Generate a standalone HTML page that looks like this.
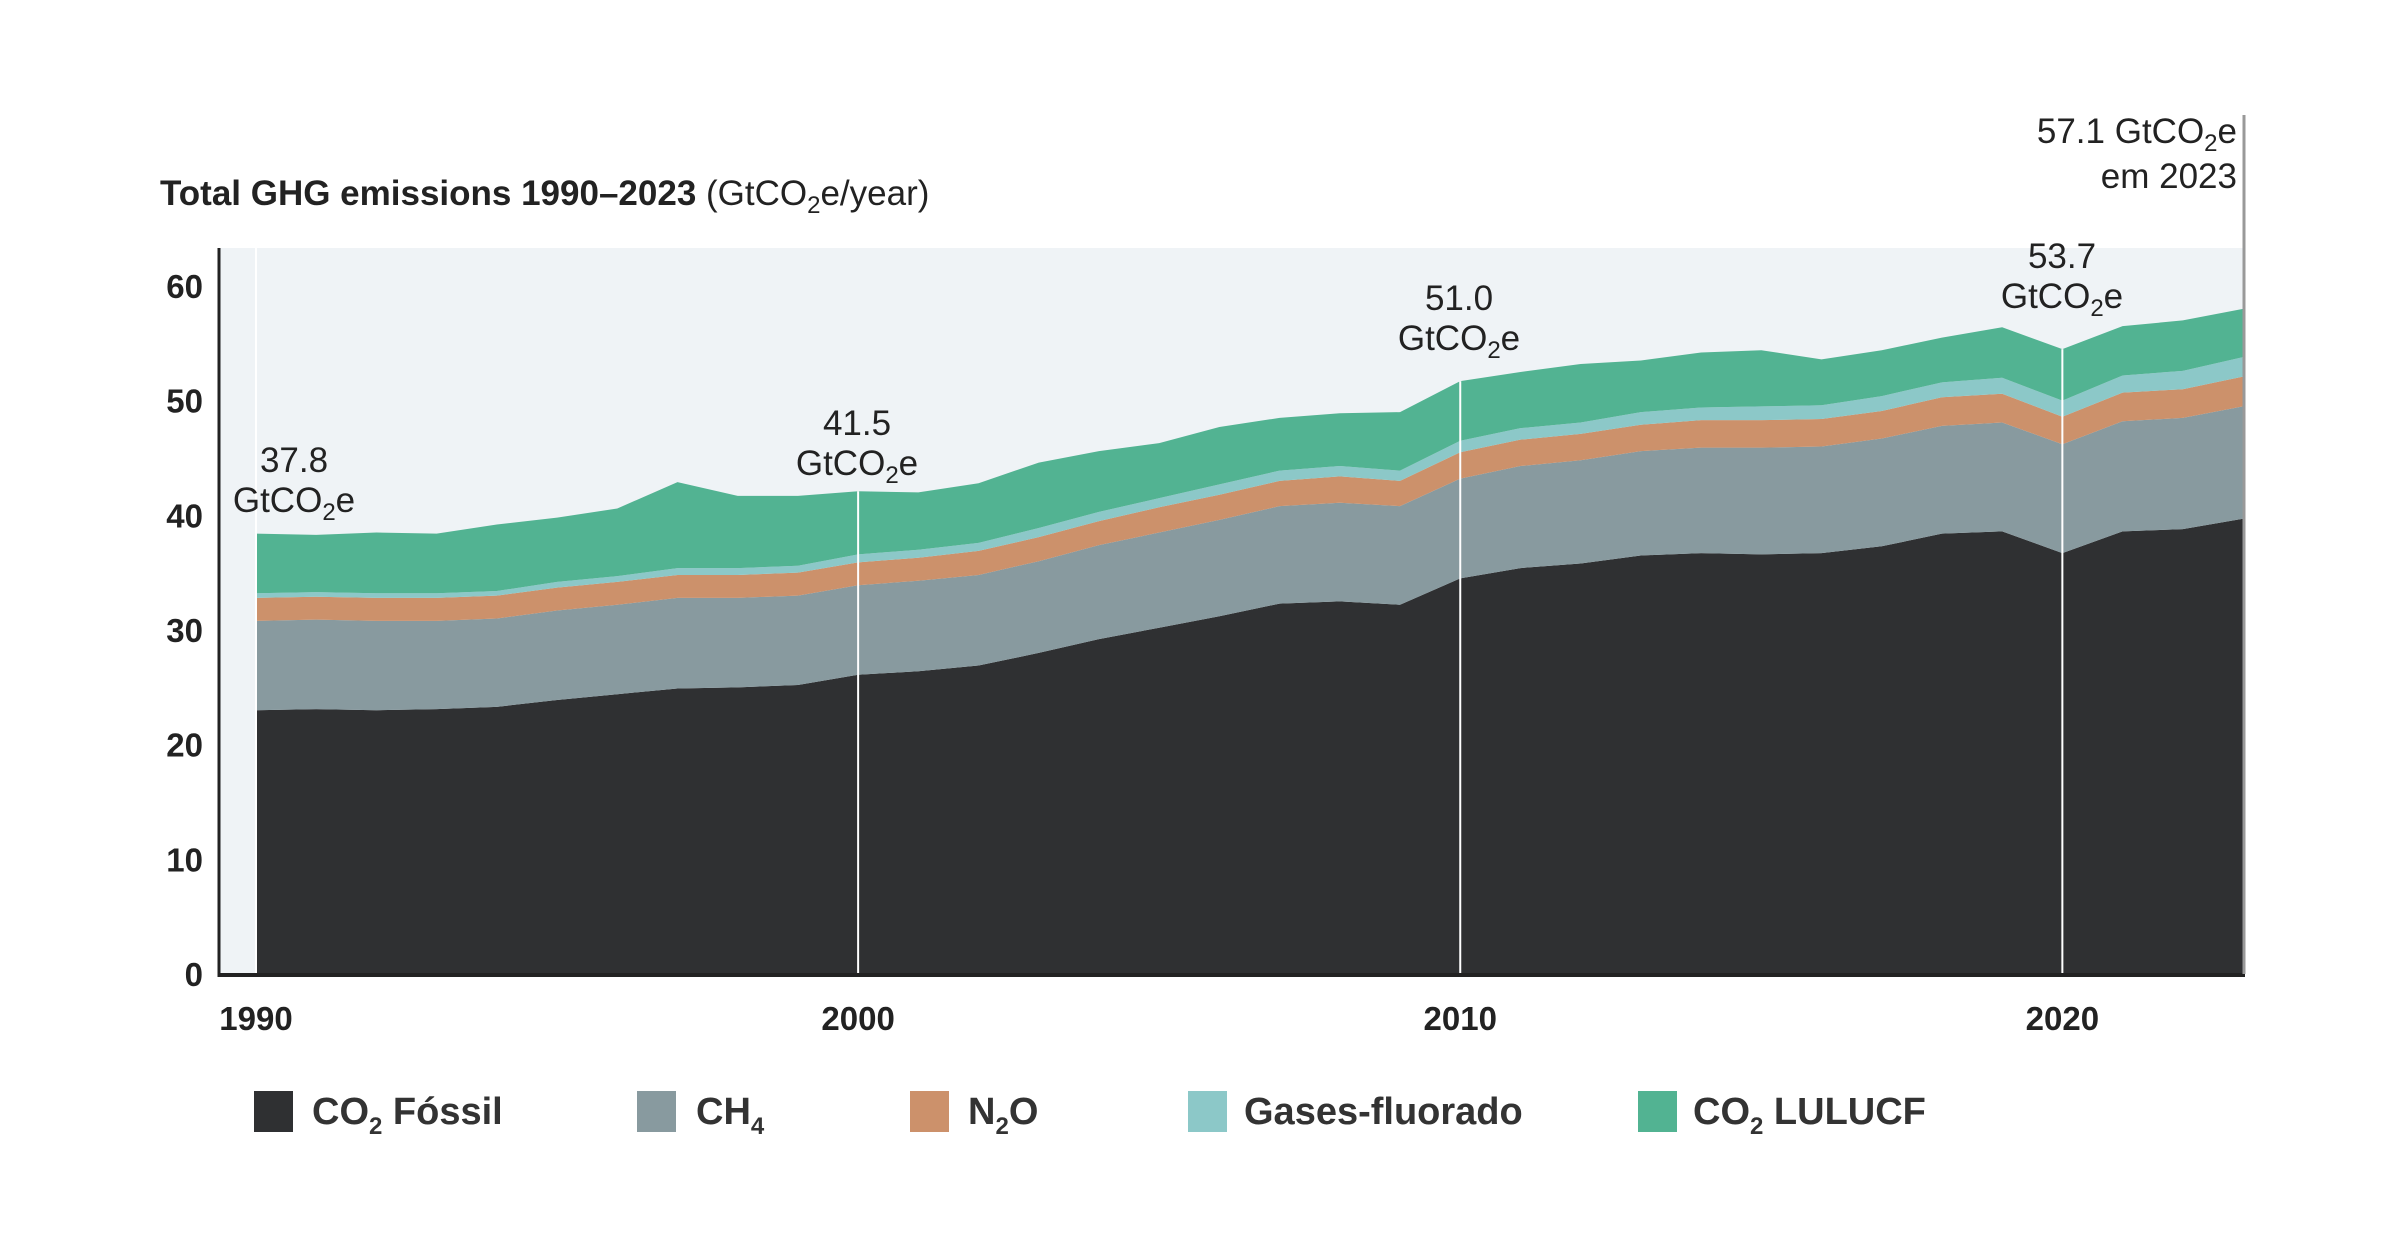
<!DOCTYPE html>
<html><head><meta charset="utf-8"><style>
body{margin:0;background:#fff;}
svg{display:block;font-family:"Liberation Sans",sans-serif;}
</style></head><body>
<svg id="chart" width="2386" height="1258" viewBox="0 0 2386 1258" xmlns="http://www.w3.org/2000/svg">
<rect x="219" y="248" width="2026" height="726" fill="#eff3f6"/>
<text x="160" y="205" font-size="35" fill="#222"><tspan font-weight="bold">Total GHG emissions 1990–2023</tspan> (GtCO<tspan font-size="24" dy="8">2</tspan><tspan dy="-8">e/year)</tspan></text>
<g id="areas"></g>
<g id="vlines"></g>
<line x1="219" y1="975" x2="2245" y2="975" stroke="#222" stroke-width="4"/>
<line x1="219" y1="248" x2="219" y2="977" stroke="#222" stroke-width="3"/>
<line x1="2244" y1="115" x2="2244" y2="974" stroke="#999" stroke-width="3"/>
<g id="yticks"></g>
<g id="xticks"></g>
<g font-size="35" fill="#222" text-anchor="middle">
<text x="294" y="472">37.8</text>
<text x="294" y="512">GtCO<tspan font-size="24" dy="8">2</tspan><tspan dy="-8">e</tspan></text>
<text x="857" y="435">41.5</text>
<text x="857" y="475">GtCO<tspan font-size="24" dy="8">2</tspan><tspan dy="-8">e</tspan></text>
<text x="1459" y="310">51.0</text>
<text x="1459" y="350">GtCO<tspan font-size="24" dy="8">2</tspan><tspan dy="-8">e</tspan></text>
<text x="2062" y="268">53.7</text>
<text x="2062" y="308">GtCO<tspan font-size="24" dy="8">2</tspan><tspan dy="-8">e</tspan></text>
<text x="2237" y="143" text-anchor="end">57.1 GtCO<tspan font-size="24" dy="8">2</tspan><tspan dy="-8">e</tspan></text>
<text x="2237" y="188" text-anchor="end">em 2023</text>
</g>
<g font-size="38" font-weight="bold" fill="#333">
<g><rect x="254" y="1091" width="39" height="41" fill="#2f3032"/><text x="312" y="1124">CO<tspan font-size="24" dy="10">2</tspan><tspan dy="-10"> Fóssil</tspan></text></g>
<g><rect x="637" y="1091" width="39" height="41" fill="#889a9f"/><text x="696" y="1124">CH<tspan font-size="24" dy="10">4</tspan></text></g>
<g><rect x="910" y="1091" width="39" height="41" fill="#cc916b"/><text x="968" y="1124">N<tspan font-size="24" dy="10">2</tspan><tspan dy="-10">O</tspan></text></g>
<g><rect x="1188" y="1091" width="39" height="41" fill="#8cc8c8"/><text x="1244" y="1124">Gases-fluorado</text></g>
<g><rect x="1638" y="1091" width="39" height="41" fill="#52b392"/><text x="1693" y="1124">CO<tspan font-size="24" dy="10">2</tspan><tspan dy="-10"> LULUCF</tspan></text></g>
</g>
</svg>
<script>
const years=[1990,1991,1992,1993,1994,1995,1996,1997,1998,1999,2000,2001,2002,2003,2004,2005,2006,2007,2008,2009,2010,2011,2012,2013,2014,2015,2016,2017,2018,2019,2020,2021,2022,2023];
const co2Fossil=[23.0,23.1,23.0,23.1,23.3,23.9,24.4,24.9,25.0,25.2,26.1,26.4,26.9,28.0,29.2,30.2,31.2,32.3,32.5,32.2,34.5,35.4,35.8,36.5,36.7,36.6,36.7,37.3,38.4,38.6,36.7,38.6,38.8,39.7];
const ch4=[7.8,7.8,7.8,7.7,7.7,7.8,7.8,7.9,7.8,7.8,7.8,7.9,7.9,8.0,8.2,8.3,8.4,8.5,8.6,8.6,8.7,8.9,9.0,9.1,9.2,9.3,9.3,9.4,9.4,9.5,9.5,9.6,9.7,9.8];
const n2o=[2.0,2.0,2.0,2.0,2.0,2.0,2.0,2.0,2.0,2.0,2.0,2.0,2.1,2.1,2.1,2.2,2.2,2.2,2.3,2.2,2.3,2.3,2.3,2.3,2.4,2.4,2.4,2.4,2.5,2.5,2.4,2.5,2.5,2.6];
const fGases=[0.4,0.4,0.4,0.4,0.4,0.5,0.5,0.6,0.6,0.6,0.7,0.7,0.7,0.8,0.8,0.8,0.9,0.9,0.9,0.9,1.0,1.0,1.0,1.1,1.1,1.2,1.2,1.3,1.3,1.4,1.4,1.5,1.6,1.7];
const co2Lulucf=[5.2,5.0,5.3,5.2,5.8,5.6,5.9,7.5,6.3,6.1,5.5,5.0,5.2,5.7,5.3,4.8,5.0,4.6,4.6,5.1,5.2,4.9,5.1,4.5,4.8,4.9,4.0,4.0,3.9,4.4,4.5,4.3,4.4,4.2];
const yTicks=[0,10,20,30,40,50,60];
const xTicks=[1990,2000,2010,2020];
const markYears=[1990,2000,2010,2020];
const NS='http://www.w3.org/2000/svg';
const x=y=>256+(y-1990)*(2243-256)/33;
const yv=v=>974-v*(974-286)/60;
const series=[[co2Fossil,'#2f3032','area-co2-fossil'],[ch4,'#889a9f','area-ch4'],[n2o,'#cc916b','area-n2o'],[fGases,'#8cc8c8','area-f-gases'],[co2Lulucf,'#52b392','area-co2-lulucf']];
const areas=document.getElementById('areas');
let base=years.map(()=>0);
series.forEach(([vals,col,name])=>{
  const top=base.map((b,i)=>b+vals[i]);
  let d='M'+years.map((yr,i)=>x(yr)+','+yv(top[i])).join(' L');
  for(let i=years.length-1;i>=0;i--) d+=' L'+x(years[i])+','+yv(base[i]);
  d+='Z';
  const p=document.createElementNS(NS,'path');
  p.setAttribute('d',d);p.setAttribute('fill',col);
  
  
  areas.appendChild(p);
  base=top;
});
const vl=document.getElementById('vlines');
markYears.forEach(yr=>{
  const i=years.indexOf(yr);
  const l=document.createElementNS(NS,'line');
  l.setAttribute('x1',x(yr));l.setAttribute('x2',x(yr));
  l.setAttribute('y1',yr===1990?248:yv(base[i]));l.setAttribute('y2',974);
  l.setAttribute('stroke','#fff');l.setAttribute('stroke-width','2');
  
  
  vl.appendChild(l);
});
const yt=document.getElementById('yticks');
yTicks.forEach(v=>{
  const t=document.createElementNS(NS,'text');
  t.setAttribute('x',203);t.setAttribute('y',yv(v)+12);
  t.setAttribute('text-anchor','end');t.setAttribute('font-size','33');t.setAttribute('font-weight','bold');t.setAttribute('fill','#222');
  t.textContent=v;
  
  
  yt.appendChild(t);
});
const xt=document.getElementById('xticks');
xTicks.forEach(v=>{
  const t=document.createElementNS(NS,'text');
  t.setAttribute('x',x(v));t.setAttribute('y',1030);
  t.setAttribute('text-anchor','middle');t.setAttribute('font-size','33');t.setAttribute('font-weight','bold');t.setAttribute('fill','#222');
  t.textContent=v;
  
  
  xt.appendChild(t);
});
</script>
</body></html>
